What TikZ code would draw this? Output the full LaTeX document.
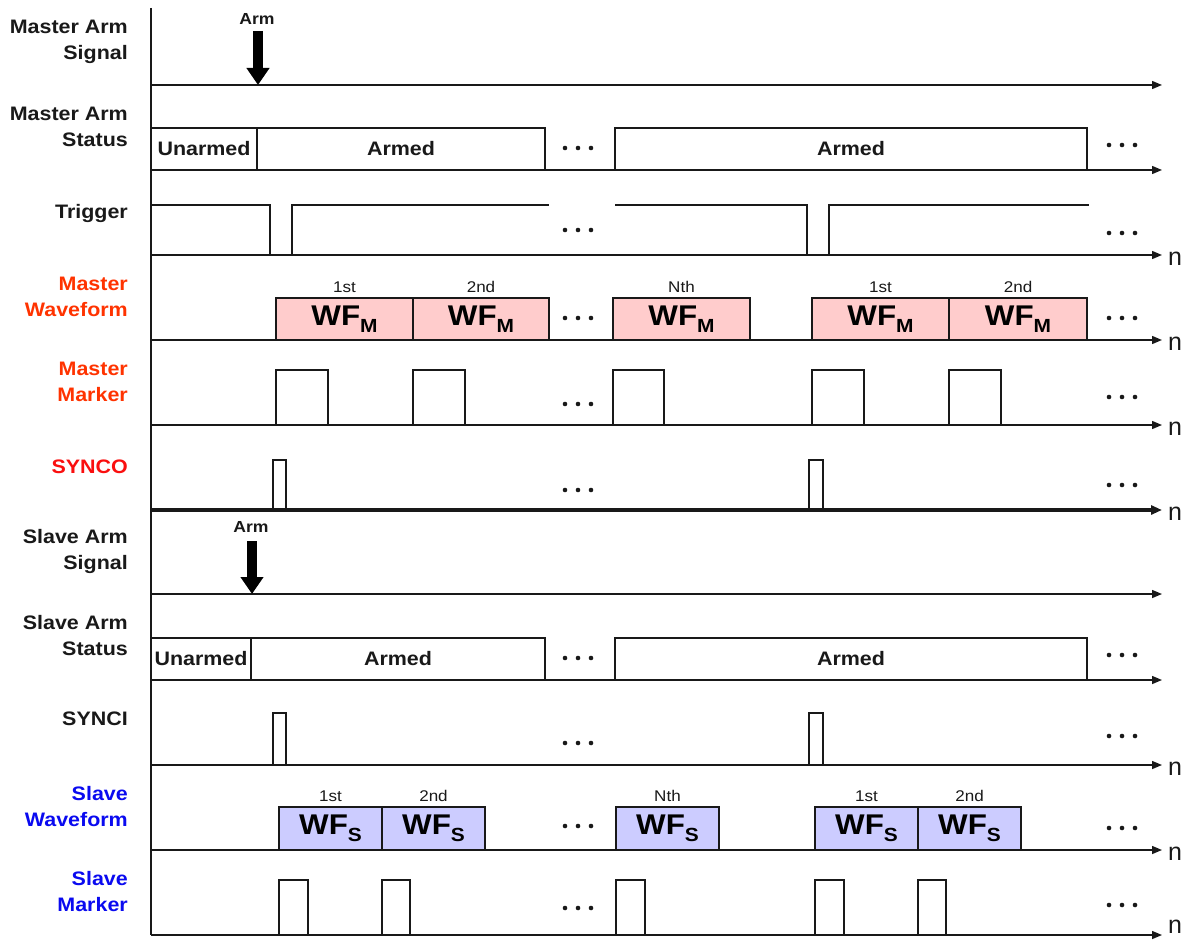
\documentclass[tikz,border=0pt]{standalone}
\usepackage{fontspec}
\setmainfont{Liberation Sans}
\newfontfamily\labfont{Liberation Sans}[FakeStretch=1.1]
\usetikzlibrary{arrows.meta}
\definecolor{mred}{RGB}{255,51,0}
\definecolor{sred}{RGB}{250,15,15}
\definecolor{sblue}{RGB}{10,10,240}
\definecolor{wfmfill}{RGB}{255,204,204}
\definecolor{wfsfill}{RGB}{204,204,255}
\definecolor{ink}{RGB}{25,25,25}
\tikzset{
  sig/.style={draw=ink, line width=1.3pt},
  axisline/.style={draw=ink, line width=1.4pt, -{Triangle[length=10pt,width=8pt]}},
  thickaxis/.style={draw=ink, line width=3.5pt, -{Triangle[length=11pt,width=9pt]}},
  lab/.style={font=\labfont\bfseries\fontsize{19.5}{26}\selectfont, align=right, anchor=east, inner sep=0pt, text=ink},
  stat/.style={draw=ink, line width=1.3pt, anchor=south west, minimum height=42pt, inner sep=0pt, outer sep=0pt, font=\labfont\bfseries\fontsize{19.5}{22}\selectfont, text=ink},
  wfm/.style={draw=ink, line width=1.3pt, fill=wfmfill, anchor=south west, minimum height=42pt, inner sep=0pt, outer sep=0pt, text=black},
  wfs/.style={draw=ink, line width=1.3pt, fill=wfsfill, anchor=south west, minimum height=43pt, inner sep=0pt, outer sep=0pt, text=black},
  ord/.style={font=\labfont\fontsize{15.5}{16}\selectfont, inner sep=0pt, text=ink},
  armlab/.style={font=\labfont\bfseries\fontsize{16}{16}\selectfont, inner sep=0pt, text=ink},
  armarrow/.style={draw=black, line width=9.5pt, -{Triangle[length=17pt,width=22pt]}},
  nlab/.style={font=\fontsize{25}{25}\selectfont, inner sep=0pt, text=ink},
}
\newcommand\tdots[2]{\fill[ink] (#1-13,#2) circle (2.3) (#1,#2) circle (2.3) (#1+13,#2) circle (2.3);}
\newcommand\wfM{{\labfont\bfseries\fontsize{28.5}{28}\selectfont WF\raisebox{-7pt}{\fontsize{19}{19}\selectfont M}}}
\newcommand\wfS{{\labfont\bfseries\fontsize{28.5}{28}\selectfont WF\raisebox{-7pt}{\fontsize{19}{19}\selectfont S}}}
\newcommand\pulse[4]{\draw[sig] (#1,#3) |- (#2,#4) -- (#2,#3);}
\begin{document}
\begin{tikzpicture}[x=1pt,y=-1pt]
\useasboundingbox[fill=white] (0,0) rectangle (1193,941);

% ---------- labels ----------
\node[lab] (l1) at (128,42) {Master Arm\\Signal};
\node[lab] (l2) at (128,127) {Master Arm\\Status};
\node[lab] (l3) at (128,214) {Trigger};
\node[lab, text=mred] (l4) at (128,297) {Master\\Waveform};
\node[lab, text=mred] (l5) at (128,382) {Master\\Marker};
\node[lab, text=sred] (l6) at (128,467) {SYNCO};
\node[lab] (l7) at (128,551) {Slave Arm\\Signal};
\node[lab] (l8) at (128,636) {Slave Arm\\Status};
\node[lab] (l9) at (128,719) {SYNCI};
\node[lab, text=sblue] (l10) at (128,807) {Slave\\Waveform};
\node[lab, text=sblue] (l11) at (128,892) {Slave\\Marker};

% ---------- vertical axis ----------
\coordinate (vtop) at (151,8);
\coordinate (vbot) at (151,935);
\draw[sig] (vtop) -- (vbot);

% ---------- status boxes ----------
\node[stat, minimum width=106pt] (mun) at (151,170) {Unarmed};
\node[stat, minimum width=288pt] (mar1) at (257,170) {Armed};
\node[stat, minimum width=472pt] (mar2) at (615,170) {Armed};
\node[stat, minimum width=100pt] (sun) at (151,680) {Unarmed};
\node[stat, minimum width=294pt] (sar1) at (251,680) {Armed};
\node[stat, minimum width=472pt] (sar2) at (615,680) {Armed};

% ---------- trigger ----------
\draw[sig] (151,205) -- (270,205) -- (270,255);
\draw[sig] (292,255) -- (292,205) -- (549,205);
\draw[sig] (615,205) -- (807,205) -- (807,255);
\draw[sig] (829,255) -- (829,205) -- (1089,205);

% ---------- master waveform ----------
\node[wfm, minimum width=137pt] (wm1) at (276,340) {\wfM};
\node[wfm, minimum width=136pt] (wm2) at (413,340) {\wfM};
\node[wfm, minimum width=137pt] (wm3) at (613,340) {\wfM};
\node[wfm, minimum width=137pt] (wm4) at (812,340) {\wfM};
\node[wfm, minimum width=138pt] (wm5) at (949,340) {\wfM};
\node[ord] (om1) at (344.5,287) {1st};
\node[ord] (om2) at (481,287) {2nd};
\node[ord] (om3) at (681.5,287) {Nth};
\node[ord] (om4) at (880.5,287) {1st};
\node[ord] (om5) at (1018,287) {2nd};

% ---------- master marker ----------
\pulse{276}{328}{425}{370}
\pulse{413}{465}{425}{370}
\pulse{613}{664}{425}{370}
\pulse{812}{864}{425}{370}
\pulse{949}{1001}{425}{370}

% ---------- SYNCO ----------
\pulse{273}{286}{510}{460}
\pulse{809}{823}{510}{460}

% ---------- SYNCI ----------
\pulse{273}{286}{765}{713}
\pulse{809}{823}{765}{713}

% ---------- slave waveform ----------
\node[wfs, minimum width=103pt] (ws1) at (279,850) {\wfS};
\node[wfs, minimum width=103pt] (ws2) at (382,850) {\wfS};
\node[wfs, minimum width=103pt] (ws3) at (616,850) {\wfS};
\node[wfs, minimum width=103pt] (ws4) at (815,850) {\wfS};
\node[wfs, minimum width=103pt] (ws5) at (918,850) {\wfS};
\node[ord] (os1) at (330.5,796) {1st};
\node[ord] (os2) at (433.5,796) {2nd};
\node[ord] (os3) at (667.5,796) {Nth};
\node[ord] (os4) at (866.5,796) {1st};
\node[ord] (os5) at (969.5,796) {2nd};

% ---------- slave marker ----------
\pulse{279}{308}{935}{880}
\pulse{382}{410}{935}{880}
\pulse{616}{645}{935}{880}
\pulse{815}{844}{935}{880}
\pulse{918}{946}{935}{880}

% ---------- horizontal axes ----------
\foreach \yy/\nm in {85/a1,170/a2,255/a3,340/a4,425/a5,594/a7,680/a8,765/a9,850/a10,935/a11}{
  \coordinate (\nm s) at (151,\yy);
  \coordinate (\nm e) at (1162,\yy);
  \draw[axisline] (\nm s) -- (\nm e);
}
\coordinate (a6s) at (151,510);
\coordinate (a6e) at (1162,510);
\draw[thickaxis] (a6s) -- (a6e);

% ---------- n labels ----------
\foreach \yy in {259,344,429,514,769,854,927}{
  \node[nlab] at (1175,\yy) {n};
}

% ---------- dots ----------
\foreach \ya/\yb in {148/145,230/233,318/318,404/397,490/485,658/655,743/736,826/828,908/905}{
  \tdots{578}{\ya}
  \tdots{1122}{\yb}
}

% ---------- arm arrows ----------
\node[armlab] (marm) at (257,19) {Arm};
\coordinate (marmt) at (258,85);
\draw[armarrow] (258,31) -- (marmt);
\node[armlab] (sarm) at (251,527) {Arm};
\coordinate (sarmt) at (252,594);
\draw[armarrow] (252,541) -- (sarmt);
\end{tikzpicture}
\end{document}
